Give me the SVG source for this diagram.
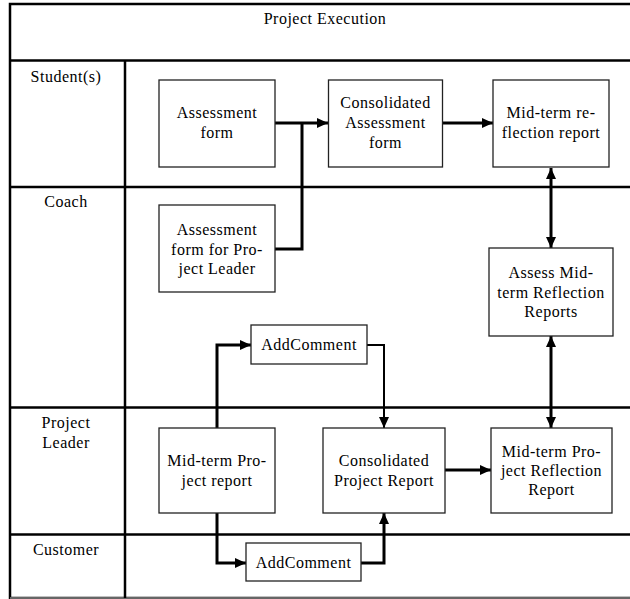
<svg xmlns="http://www.w3.org/2000/svg" width="630" height="599" viewBox="0 0 630 599">
<style>
  text { font-family: "Liberation Serif", "DejaVu Serif", "Times New Roman", serif; font-size: 16px; fill: #000; letter-spacing: 0.5px; text-anchor: middle; }
  .lane { stroke: #000; stroke-width: 2.5; fill: none; }
  .box { fill: #fff; stroke: #222; stroke-width: 1.3; }
  .conn { fill: none; stroke: #000; stroke-width: 3; }
  .connthin { fill: none; stroke: #000; stroke-width: 2; }
</style>
<defs>
  <marker id="arr" markerUnits="userSpaceOnUse" markerWidth="11" markerHeight="10" refX="11" refY="5" orient="auto-start-reverse">
    <path d="M0,0 L11,5 L0,10 z" fill="#000"/>
  </marker>
</defs>
<rect width="630" height="599" fill="#fff"/>
<g id="frame" font-family="Liberation Serif, serif">
  <rect x="10" y="4" width="640" height="594" class="lane"/>
  <line x1="10" y1="598" x2="630" y2="598" stroke="#888" stroke-width="1.5"/>
  <line x1="10" y1="60.5" x2="630" y2="60.5" class="lane"/>
  <line x1="10" y1="187" x2="630" y2="187" class="lane"/>
  <line x1="10" y1="407.5" x2="630" y2="407.5" class="lane"/>
  <line x1="10" y1="534.5" x2="630" y2="534.5" class="lane"/>
  <line x1="125" y1="60.5" x2="125" y2="598" class="lane"/>
  <text x="325" y="24">Project Execution</text>
  <text x="66" y="82">Student(s)</text>
  <text x="66" y="207">Coach</text>
  <text x="66" y="428">Project</text>
  <text x="66" y="448">Leader</text>
  <text x="66" y="555">Customer</text>
</g>
<g id="connectors">
  <path d="M275,123 H328" class="conn" marker-end="url(#arr)"/>
  <path d="M275,249 H302 V123" class="conn"/>
  <path d="M443,123 H493" class="conn" marker-end="url(#arr)"/>
  <path d="M551,168 V248" class="conn" marker-start="url(#arr)" marker-end="url(#arr)"/>
  <path d="M551,336 V428" class="conn" marker-start="url(#arr)" marker-end="url(#arr)"/>
  <path d="M217,428 V345 H251" class="conn" marker-end="url(#arr)"/>
  <path d="M367,345 H384 V428" class="connthin" marker-end="url(#arr)"/>
  <path d="M217,513 V563 H246" class="conn" marker-end="url(#arr)"/>
  <path d="M361,563 H384 V513" class="conn" marker-end="url(#arr)"/>
  <path d="M445,470 H491" class="conn" marker-end="url(#arr)"/>
</g>
<g id="assessment-form">
  <rect x="159" y="80" width="116" height="87" class="box"/>
  <text x="217" y="118">Assessment</text>
  <text x="217" y="138">form</text>
</g>
<g id="consolidated-assessment-form">
  <rect x="328.5" y="80" width="114" height="87" class="box"/>
  <text x="385.5" y="108">Consolidated</text>
  <text x="385.5" y="128">Assessment</text>
  <text x="385.5" y="148">form</text>
</g>
<g id="midterm-reflection-report">
  <rect x="493" y="80" width="116" height="87" class="box"/>
  <text x="551" y="118">Mid-term re-</text>
  <text x="551" y="138">flection report</text>
</g>
<g id="assessment-form-pl">
  <rect x="159" y="205" width="116" height="87" class="box"/>
  <text x="217" y="235">Assessment</text>
  <text x="217" y="255">form for Pro-</text>
  <text x="217" y="274">ject Leader</text>
</g>
<g id="assess-midterm">
  <rect x="489" y="248" width="124" height="88" class="box"/>
  <text x="551" y="278">Assess Mid-</text>
  <text x="551" y="298">term Reflection</text>
  <text x="551" y="317">Reports</text>
</g>
<g id="addcomment-coach">
  <rect x="251" y="325" width="116" height="39" class="box"/>
  <text x="309" y="350">AddComment</text>
</g>
<g id="midterm-project-report">
  <rect x="159" y="428" width="116" height="85" class="box"/>
  <text x="217" y="466">Mid-term Pro-</text>
  <text x="217" y="486">ject report</text>
</g>
<g id="consolidated-project-report">
  <rect x="323" y="428" width="122" height="85" class="box"/>
  <text x="384" y="466">Consolidated</text>
  <text x="384" y="486">Project  Report</text>
</g>
<g id="midterm-project-reflection-report">
  <rect x="491" y="428" width="121" height="85" class="box"/>
  <text x="551.5" y="457">Mid-term Pro-</text>
  <text x="551.5" y="476">ject Reflection</text>
  <text x="551.5" y="495">Report</text>
</g>
<g id="addcomment-customer">
  <rect x="246" y="543" width="115" height="38" class="box"/>
  <text x="303.5" y="568">AddComment</text>
</g>
</svg>
